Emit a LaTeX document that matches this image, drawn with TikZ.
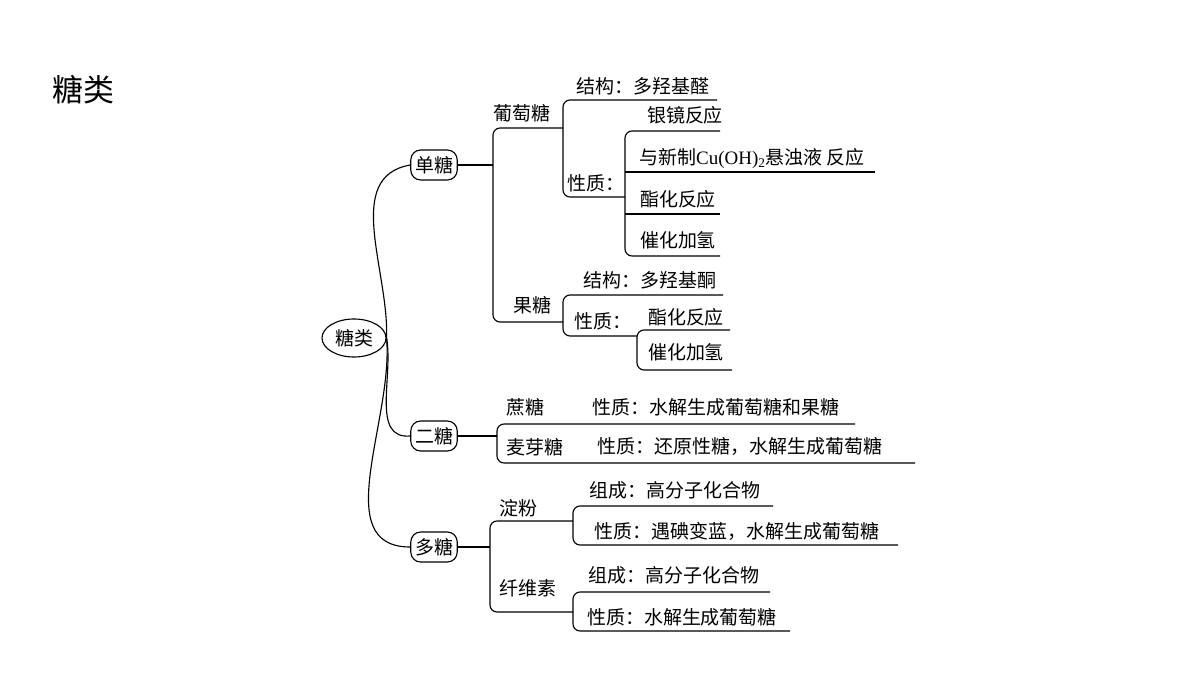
\documentclass[tikz,border=0pt]{standalone}
\usepackage{fontspec}
\setmainfont{Liberation Serif}
\newfontfamily\cjk{Noto Sans CJK SC}
\usetikzlibrary{shapes.geometric}
\begin{document}
\begin{tikzpicture}[x=0.025cm,y=-0.025cm,line width=0.8pt,
    txt/.style={font=\cjk\fontsize{13.5}{15}\selectfont,inner sep=0pt},
    box/.style={draw,rounded corners=7pt,font=\cjk\fontsize{13.5}{15}\selectfont,inner sep=3pt,minimum height=0.75cm},
    brk/.style={rounded corners=5pt}]
    \useasboundingbox (0,0) rectangle (1200,675);
    \node[font=\cjk\fontsize{22}{24}\selectfont] (title) at (83,90) {糖类};
    % root and main branches
    \node[draw,ellipse,minimum width=1.6cm,minimum height=0.95cm,inner sep=1pt,font=\cjk\fontsize{13.5}{15}\selectfont] (root) at (354,338) {糖类};
    \node[box] (dan) at (434,165) {单糖};
    \node[box] (er) at (434,436) {二糖};
    \node[box] (duo) at (434,547) {多糖};
    \draw (root.east) to[out=88,in=190] (dan.west);
    \draw (root.east) to[out=-80,in=185] (er.west);
    \draw (root.east) to[out=-85,in=180] (duo.west);
    % 单糖
    \draw[brk] (dan.east) -- (493,165);
    \draw[brk] (563,128) -- (493,128) -- (493,322) -- (563,322);
    \node[txt] (pt) at (522,113) {葡萄糖};
    \node[txt] (gt) at (532,305) {果糖};
    \draw[brk] (717,100) -- (563,100) -- (563,197) -- (625,197);
    \node[txt] (ptjg) at (643,86) {结构：多羟基醛};
    \node[txt] (ptxz) at (596,183) {性质：};
    \draw[brk] (720,131) -- (625,131) -- (625,256) -- (720,256);
    \draw (625,172) -- (875,172);
    \draw (625,214) -- (720,214);
    \node[txt] (yj) at (685,115) {银镜反应};
    \node[txt] (cu) at (752,158) {与新制{\rmfamily Cu(OH)\textsubscript{2}}悬浊液 反应};
    \node[txt] (zh1) at (678,199) {酯化反应};
    \node[txt] (ch1) at (678,240) {催化加氢};
    \draw[brk] (723,295) -- (563,295) -- (563,336) -- (637,336);
    \node[txt] (gtjg) at (650,280) {结构：多羟基酮};
    \node[txt] (gtxz) at (603,321) {性质：};
    \draw[brk] (730,330) -- (637,330) -- (637,370) -- (732,370);
    \node[txt] (zh2) at (686,317) {酯化反应};
    \node[txt] (ch2) at (686,352) {催化加氢};
    % 二糖
    \draw (er.east) -- (497,436);
    \draw[brk] (855,424) -- (497,424) -- (497,463) -- (915,463);
    \node[txt] (zt) at (525,407) {蔗糖};
    \node[txt] (ztxz) at (716,407) {性质：水解生成葡萄糖和果糖};
    \node[txt] (myt) at (535,447) {麦芽糖};
    \node[txt] (mytxz) at (740,447) {性质：还原性糖，水解生成葡萄糖};
    % 多糖
    \draw (duo.east) -- (490,547);
    \draw[brk] (573,521) -- (490,521) -- (490,612) -- (573,612);
    \node[txt] (df) at (518,508) {淀粉};
    \node[txt] (xws) at (528,588) {纤维素};
    \draw[brk] (773,506) -- (573,506) -- (573,545) -- (898,545);
    \node[txt] (dfzc) at (675,490) {组成：高分子化合物};
    \node[txt] (dfxz) at (737,531) {性质：遇碘变蓝，水解生成葡萄糖};
    \draw[brk] (770,592) -- (573,592) -- (573,631) -- (790,631);
    \node[txt] (xwzc) at (674,575) {组成：高分子化合物};
    \node[txt] (xwxz) at (682,617) {性质：水解生成葡萄糖};
\end{tikzpicture}
\end{document}
